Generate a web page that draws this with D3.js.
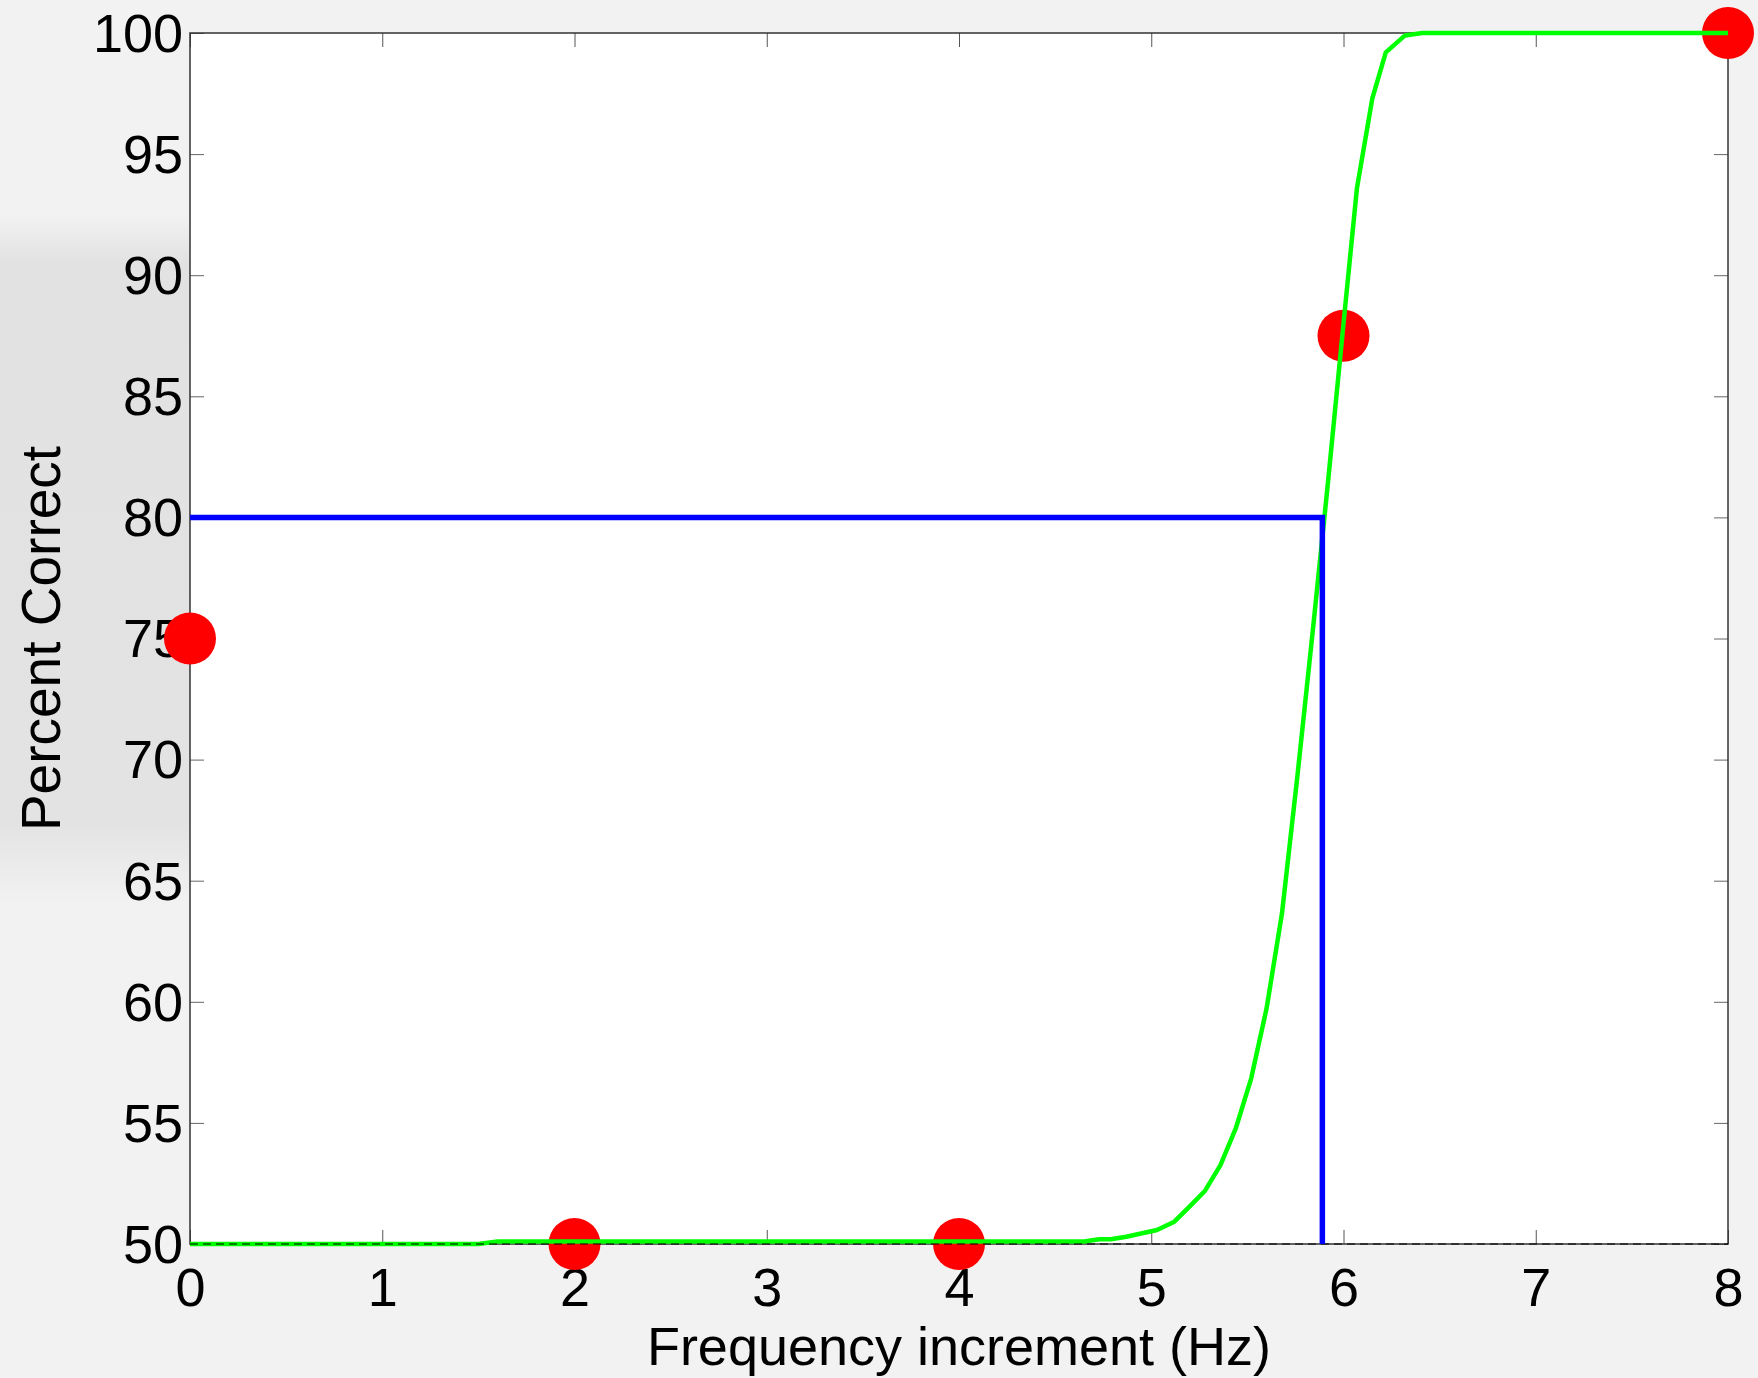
<!DOCTYPE html>
<html>
<head>
<meta charset="utf-8">
<script src="https://cdn.jsdelivr.net/npm/d3@7"></script>
<style>
  body { margin: 0; background: #f2f2f2; }
  svg { display: block; font-family: "Liberation Sans", Arial, sans-serif; }
</style>
</head>
<body>
<svg id="chart"></svg>
<script>
// measured points (frequency increment, percent correct)
var pointsX = [0, 2, 4, 6, 8];
var pointsY = [75, 50, 50, 87.5, 100];

// fitted psychometric curve
var fitX = [0, 1.5, 1.6, 4.65, 4.73, 4.79, 4.87, 5.03, 5.12, 5.19, 5.28, 5.36, 5.44, 5.52, 5.60, 5.68, 5.76, 5.84, 5.92, 6.0, 6.07, 6.15, 6.22, 6.32, 6.41, 8];
var fitY = [50, 50, 50.1, 50.1, 50.2, 50.2, 50.3, 50.58, 50.92, 51.47, 52.2, 53.26, 54.78, 56.84, 59.73, 63.65, 69.3, 75.3, 81.5, 88.0, 93.6, 97.3, 99.2, 99.9, 100, 100];

// threshold at 80% correct
var threshold = 5.89;
var criterion = 80;
var chance = 50;

var xTicks = [0, 1, 2, 3, 4, 5, 6, 7, 8];
var yTicks = [50, 55, 60, 65, 70, 75, 80, 85, 90, 95, 100];

var w = 1758;
var h = 1378;
var plotL = 190, plotR = 1728, plotT = 33, plotB = 1244;

var svg = d3.select("#chart")
  .attr("width", w)
  .attr("height", h);

var defs = svg.append("defs");
var grad = defs.append("linearGradient")
  .attr("id", "band")
  .attr("x1", 0).attr("y1", 0).attr("x2", 0).attr("y2", 1);
grad.append("stop").attr("offset", "0%").attr("stop-color", "#f2f2f2");
grad.append("stop").attr("offset", "7%").attr("stop-color", "#e2e2e2");
grad.append("stop").attr("offset", "88%").attr("stop-color", "#e3e3e3");
grad.append("stop").attr("offset", "100%").attr("stop-color", "#f2f2f2");

svg.append("rect")
  .attr("width", w)
  .attr("height", h)
  .attr("fill", "#f2f2f2");

// darker band behind the y label
svg.append("rect")
  .attr("x", 0)
  .attr("y", 215)
  .attr("width", plotL)
  .attr("height", 690)
  .attr("fill", "url(#band)");

var x = d3.scaleLinear().domain([0, 8]).range([plotL, plotR]);
var y = d3.scaleLinear().domain([50, 100]).range([plotB, plotT]);

svg.append("rect")
  .attr("x", plotL)
  .attr("y", plotT)
  .attr("width", plotR - plotL)
  .attr("height", plotB - plotT)
  .attr("fill", "white");

// ticks on all four sides, pointing in
var tickLen = 14;
function noLabels(axis) {
  return axis.tickSizeInner(-tickLen).tickSizeOuter(0).tickFormat("");
}

svg.append("g")
  .attr("transform", "translate(0," + plotB + ")")
  .call(d3.axisBottom(x).tickValues(xTicks).tickSizeInner(-tickLen).tickSizeOuter(0).tickPadding(24))
  .call(function(g) {
    g.select(".domain").remove();
    g.attr("font-size", 54).attr("font-family", "'Liberation Sans', Arial, sans-serif");
    g.selectAll("line").attr("stroke", "#555");
    g.selectAll("text").attr("fill", "black");
  });

svg.append("g")
  .attr("transform", "translate(0," + plotT + ")")
  .call(noLabels(d3.axisTop(x).tickValues(xTicks)))
  .call(function(g) {
    g.select(".domain").remove();
    g.selectAll("line").attr("stroke", "#555");
  });

svg.append("g")
  .attr("transform", "translate(" + plotL + ",0)")
  .call(d3.axisLeft(y).tickValues(yTicks).tickSizeInner(-tickLen).tickSizeOuter(0).tickPadding(7))
  .call(function(g) {
    g.select(".domain").remove();
    g.attr("font-size", 54).attr("font-family", "'Liberation Sans', Arial, sans-serif");
    g.selectAll("line").attr("stroke", "#666");
    g.selectAll("text").attr("fill", "black").attr("dy", "0.34em");
  });

svg.append("g")
  .attr("transform", "translate(" + plotR + ",0)")
  .call(noLabels(d3.axisRight(y).tickValues(yTicks)))
  .call(function(g) {
    g.select(".domain").remove();
    g.selectAll("line").attr("stroke", "#666");
  });

// frame
svg.append("rect")
  .attr("x", plotL)
  .attr("y", plotT)
  .attr("width", plotR - plotL)
  .attr("height", plotB - plotT)
  .attr("fill", "none")
  .attr("stroke", "#333")
  .attr("stroke-width", 1.5);

svg.append("text")
  .attr("x", (plotL + plotR) / 2)
  .attr("y", 1365)
  .attr("text-anchor", "middle")
  .attr("font-size", 54)
  .text("Frequency increment (Hz)");

svg.append("text")
  .attr("transform", "translate(60," + (plotT + plotB) / 2 + ") rotate(-90)")
  .attr("text-anchor", "middle")
  .attr("font-size", 55)
  .text("Percent Correct");

var points = pointsX.map(function(d, i) { return {x: d, y: pointsY[i]}; });
var fit = fitX.map(function(d, i) { return {x: d, y: fitY[i]}; });

svg.append("g")
  .selectAll("circle")
  .data(points)
  .enter()
  .append("circle")
  .attr("cx", function(d) { return x(d.x); })
  .attr("cy", function(d) { return y(d.y); })
  .attr("r", 26)
  .attr("fill", "#ff0000");

var line = d3.line()
  .x(function(d) { return x(d.x); })
  .y(function(d) { return y(d.y); });

svg.append("path")
  .datum(fit)
  .attr("d", line)
  .attr("fill", "none")
  .attr("stroke", "#00ff00")
  .attr("stroke-width", 4.5)
  .attr("stroke-linejoin", "round");

// chance level
svg.append("line")
  .attr("x1", x(0))
  .attr("x2", x(8))
  .attr("y1", y(chance))
  .attr("y2", y(chance))
  .attr("stroke", "black")
  .attr("stroke-width", 1.2)
  .attr("stroke-dasharray", "8,5");

svg.append("path")
  .datum([{x: 0, y: criterion}, {x: threshold, y: criterion}, {x: threshold, y: chance}])
  .attr("d", line)
  .attr("fill", "none")
  .attr("stroke", "#0000ff")
  .attr("stroke-width", 5.5);
</script>
</body>
</html>
